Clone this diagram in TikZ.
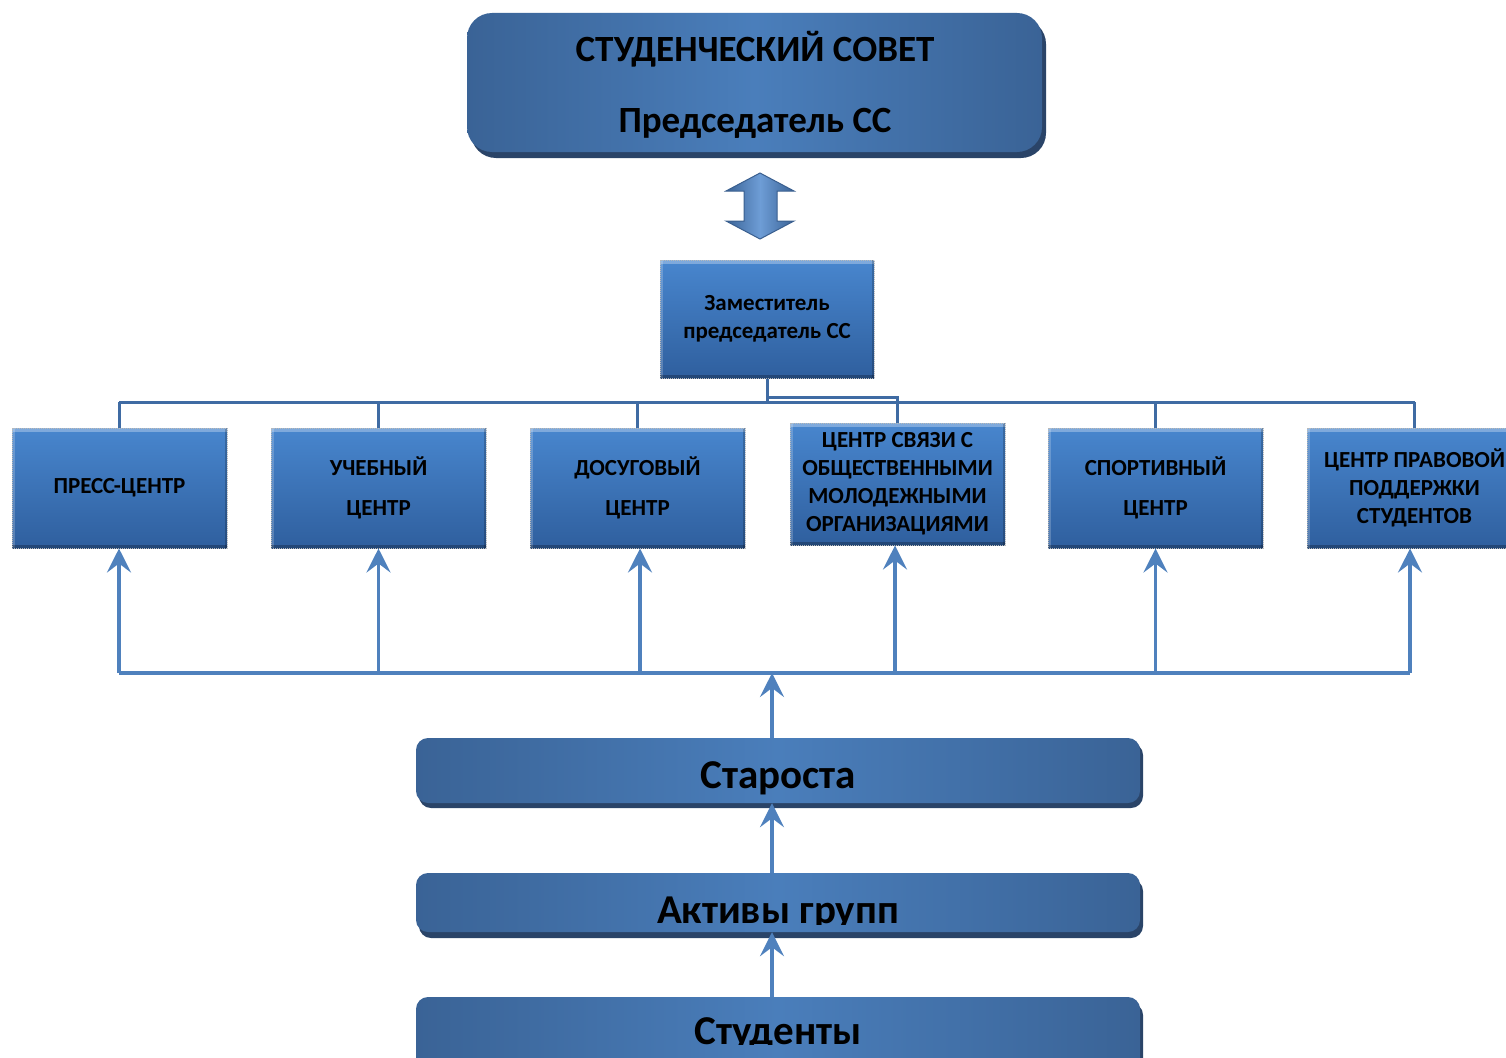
\documentclass[tikz,border=0pt]{standalone}
\usepackage{fontspec}
\setmainfont{Carlito}
\usetikzlibrary{arrows.meta,calc}
\definecolor{edgeblue}{HTML}{3A6396}
\definecolor{midblue}{HTML}{4A7EBB}
\definecolor{shadowblue}{HTML}{2A4468}
\definecolor{boxtop}{HTML}{4886CE}
\definecolor{boxbot}{HTML}{2F5F9E}
\definecolor{linkblue}{HTML}{4F81BD}
\definecolor{busblue}{HTML}{3F6BA3}
\definecolor{arrowlight}{HTML}{6E9DD6}
\definecolor{arrowedge}{HTML}{3A5F8F}
\begin{document}
\begin{tikzpicture}[x=1pt,y=-1pt,
  council/.style={rounded corners=25pt, left color=edgeblue, right color=edgeblue,
    middle color=midblue, minimum width=575pt, minimum height=139pt, inner sep=0pt},
  counciltext/.style={font=\fontsize{37}{37}\selectfont\bfseries, inner sep=0pt},
  unitbox/.style={top color=boxtop, bottom color=boxbot, minimum width=215pt,
    minimum height=120pt, inner sep=0pt, align=center,
    draw=gray!55, densely dotted, line width=1pt,
    font=\fontsize{23}{28}\selectfont\bfseries,
    path picture={
      \draw[solid, white, opacity=0.3, line width=7pt]
        (path picture bounding box.north west) -- (path picture bounding box.north east);
      \draw[solid, white, opacity=0.2, line width=5pt]
        (path picture bounding box.north west) -- (path picture bounding box.south west);
      \draw[solid, black, opacity=0.25, line width=6pt]
        (path picture bounding box.south west) -- (path picture bounding box.south east);
      \draw[solid, black, opacity=0.2, line width=5pt]
        (path picture bounding box.north east) -- (path picture bounding box.south east);
    }},
  bar/.style={rounded corners=12pt, left color=edgeblue, right color=edgeblue,
    middle color=midblue, minimum width=724pt, inner sep=0pt},
  bartext/.style={font=\fontsize{41}{41}\selectfont\bfseries, inner sep=0pt},
  barshadow/.style={fill=shadowblue, rounded corners=12pt},
  bus/.style={draw=busblue, line width=3pt},
  link/.style={draw=linkblue, line width=3.5pt},
  uparrow/.style={draw=linkblue, line width=3.5pt,
    -{Stealth[length=24pt,width=24pt,inset=9pt]}}
]
\useasboundingbox (0,0) rectangle (1506,1057);
\clip (0,0) rectangle (1506,1057);

% top council box
\fill[shadowblue, rounded corners=25pt] (471,19) rectangle (1046,158);
\node[council] (council) at (754.5,82.5) {};
\node[counciltext, anchor=base] (title1) at (755,62) {СТУДЕНЧЕСКИЙ СОВЕТ};
\node[counciltext, anchor=base] (title2) at (755,132) {Председатель СС};

% double arrow
\shade[left color=edgeblue, right color=edgeblue, middle color=arrowlight,
  draw=arrowedge, line width=1pt]
  (760,173) -- (794,191) -- (777,191) -- (777,221) -- (794,221) -- (760,239)
  -- (726,221) -- (744,221) -- (744,191) -- (726,191) -- cycle;

% deputy
\node[unitbox, minimum width=214pt, minimum height=118pt] (dep) at (767,319)
  {Заместитель\\председатель СС};

% six centres
\node[unitbox] (b1) at (119.5,488) {ПРЕСС-ЦЕНТР};
\node[unitbox] (b2) at (378.5,488) {УЧЕБНЫЙ\\[12pt]ЦЕНТР};
\node[unitbox] (b3) at (637.5,488) {ДОСУГОВЫЙ\\[12pt]ЦЕНТР};
\node[unitbox, minimum height=122pt] (b4) at (897.5,484)
  {ЦЕНТР СВЯЗИ С\\ОБЩЕСТВЕННЫМИ\\МОЛОДЕЖНЫМИ\\ОРГАНИЗАЦИЯМИ};
\node[unitbox] (b5) at (1155.5,488) {СПОРТИВНЫЙ\\[12pt]ЦЕНТР};
\node[unitbox] (b6) at (1414.5,488) {ЦЕНТР ПРАВОВОЙ\\ПОДДЕРЖКИ\\СТУДЕНТОВ};

% top bus
\coordinate (busL) at (119,402);
\coordinate (busR) at (1415,402);
\draw[bus] (dep.south) -- (dep.south |- busL);
\draw[bus] (dep.south) -- ++(0,19) -| (b4.north);
\draw[bus] (busL) -- (busR);
\foreach \b in {b1,b2,b3,b4,b5,b6}
  \draw[bus] (\b.north |- busL) -- (\b.north);

% bottom bars
\fill[barshadow] (419,743) rectangle (1143,808);
\node[bar, minimum height=65pt] (star) at (778,770.5) {};
\node[bartext, anchor=base] (startext) at (778,788) {Староста};

\fill[barshadow] (419,879) rectangle (1143,938);
\node[bar, minimum height=59pt] (akt) at (778,902.5) {};
\begin{scope}
  \clip (416,873) rectangle (1143,924);
  \node[bartext, anchor=base] (akttext) at (778,923) {Активы групп};
\end{scope}

\fill[barshadow] (419,1003) rectangle (1143,1080);
\node[bar, minimum height=80pt] (stud) at (778,1037) {};
\begin{scope}
  \clip (416,997) rectangle (1143,1044);
  \node[bartext, anchor=base] (studtext) at (778,1044) {Студенты};
\end{scope}

% lower bus and arrows
\coordinate (lowL) at (119,673);
\coordinate (lowR) at (1410,673);
\coordinate (mid) at (772,0);
\draw[link] (lowL) -- (lowR);
\draw[uparrow] (lowL) -- (b1.south -| lowL);
\draw[uparrow] (b2.south |- lowL) -- (b2.south);
\coordinate (x3) at (640,0);
\draw[uparrow] (x3 |- lowL) -- (x3 |- b3.south);
\coordinate (x4) at (895,0);
\draw[uparrow] (x4 |- lowL) -- (x4 |- b4.south);
\draw[uparrow] (b5.south |- lowL) -- (b5.south);
\draw[uparrow] (lowR) -- (lowR |- b6.south);
\draw[uparrow] (mid |- star.north) -- (mid |- lowL);
\draw[uparrow] (mid |- akt.north) -- (mid |- star.south);
\draw[uparrow] (mid |- stud.north) -- (mid |- akt.south);
\end{tikzpicture}
\end{document}
